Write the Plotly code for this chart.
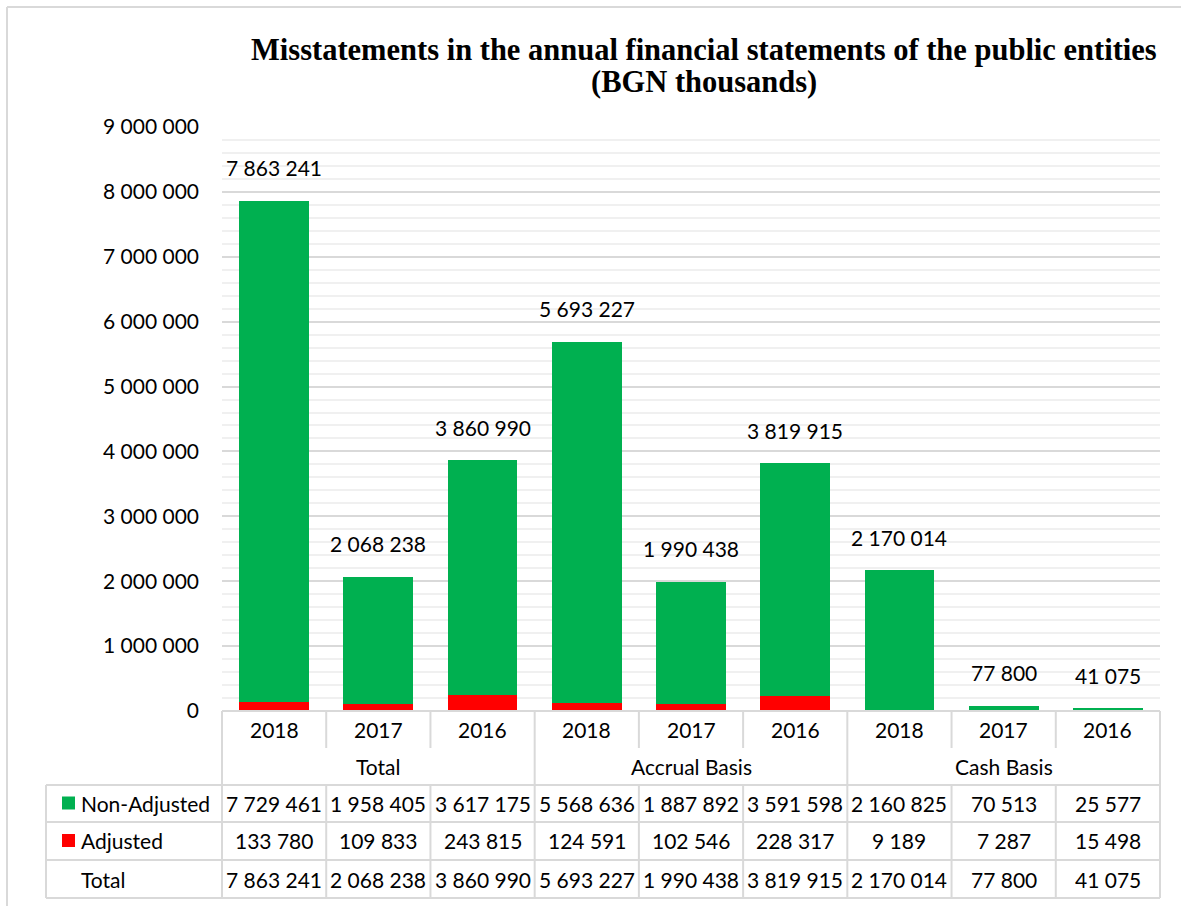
import plotly.graph_objects as go

# Data (BGN thousands)
groups = ["Total", "Accrual Basis", "Cash Basis"]
years = ["2018", "2017", "2016"]
non_adjusted = [7729461, 1958405, 3617175, 5568636, 1887892, 3591598, 2160825, 70513, 25577]
adjusted = [133780, 109833, 243815, 124591, 102546, 228317, 9189, 7287, 15498]
totals = [7863241, 2068238, 3860990, 5693227, 1990438, 3819915, 2170014, 77800, 41075]
series_names = ["Non-Adjusted", "Adjusted", "Total"]
title_lines = ["Misstatements in the annual financial statements of the public entities",
               "(BGN thousands)"]

GREEN = "#00B050"
RED = "#FF0000"
GRID = "#d9d9d9"
FONT = "Lato"
FS = 21

W, H = 1181, 906
L, R, T, B = 222, 1160, 127, 711   # plot area in pixels


def px(x):
    return (x - L) / (R - L)


def py(y):
    return (B - y) / (B - T)


def fmt(v):
    return f"{v:,}".replace(",", " ")


def text_at(x, y, text, **kw):
    d = dict(x=px(x), y=py(y), xref="paper", yref="paper", text=text, showarrow=False,
             xanchor="center", yanchor="middle",
             font=dict(size=FS, color="#000", family=FONT))
    d.update(kw)
    return d


n = len(totals)
xs = list(range(n))

fig = go.Figure()
fig.add_bar(x=xs, y=adjusted, name="Adjusted", marker=dict(color=RED, line_width=0), width=0.67)
fig.add_bar(x=xs, y=non_adjusted, name="Non-Adjusted", marker=dict(color=GREEN, line_width=0), width=0.67)

shapes = []
annotations = []

# total labels above bars
for i, t in enumerate(totals):
    annotations.append(dict(x=i, y=t, xref="x", yref="y", text=fmt(t), showarrow=False,
                            yshift=33, font=dict(size=FS, color="#000", family=FONT)))

line = dict(color=GRID, width=2)
col_w = (R - L) / n

# year row and group row
for i in range(n):
    cx = L + col_w * (i + 0.5)
    annotations.append(text_at(cx, 729, years[i % 3]))
for g, name in enumerate(groups):
    cx = L + col_w * (3 * g + 1.5)
    annotations.append(text_at(cx, 766, name))

# table rows
row_tops = [785, 822, 860, 898]
row_vals = [non_adjusted, adjusted, totals]
row_colors = [GREEN, RED, None]
for r, vals in enumerate(row_vals):
    cy = (row_tops[r] + row_tops[r + 1]) / 2
    for i, v in enumerate(vals):
        cx = L + col_w * (i + 0.5)
        annotations.append(text_at(cx, cy, fmt(v)))
    annotations.append(text_at(79, cy, series_names[r], xanchor="left"))
    if row_colors[r]:
        shapes.append(dict(type="rect", xref="paper", yref="paper", x0=px(62), x1=px(75),
                           y0=py(cy + 6), y1=py(cy - 7), fillcolor=row_colors[r], line_width=0))

# table grid lines
for y in row_tops:
    shapes.append(dict(type="line", xref="paper", yref="paper", x0=px(46), x1=px(R),
                       y0=py(y), y1=py(y), line=line))
shapes.append(dict(type="line", xref="paper", yref="paper", x0=px(L), x1=px(R),
                   y0=py(B), y1=py(B), line=line))
shapes.append(dict(type="line", xref="paper", yref="paper", x0=px(46), x1=px(46),
                   y0=py(785), y1=py(898), line=line))
for i in range(n + 1):
    x = L + col_w * i
    if i % 3 == 0:
        shapes.append(dict(type="line", xref="paper", yref="paper", x0=px(x), x1=px(x),
                           y0=py(B), y1=py(898), line=line))
    else:
        shapes.append(dict(type="line", xref="paper", yref="paper", x0=px(x), x1=px(x),
                           y0=py(B), y1=py(748), line=line))
        shapes.append(dict(type="line", xref="paper", yref="paper", x0=px(x), x1=px(x),
                           y0=py(785), y1=py(898), line=line))

# outer frame (top and left edges)
shapes.append(dict(type="line", xref="paper", yref="paper", x0=px(7), x1=px(W + 10),
                   y0=py(7), y1=py(7), line=dict(color=GRID, width=2)))
shapes.append(dict(type="line", xref="paper", yref="paper", x0=px(7), x1=px(7),
                   y0=py(7), y1=py(H + 10), line=dict(color=GRID, width=2)))

# title, two lines
for ty, tl in zip([50, 82], title_lines):
    annotations.append(text_at(704, ty, f"<b>{tl}</b>",
                               font=dict(size=30.5, color="#000", family="Liberation Serif")))

fig.update_layout(
    width=W, height=H,
    margin=dict(l=L, r=W - R, t=T, b=H - B, autoexpand=False),
    barmode="stack",
    showlegend=False,
    plot_bgcolor="white",
    paper_bgcolor="white",
    separators=". ",
    shapes=shapes,
    annotations=annotations,
    xaxis=dict(range=[-0.5, n - 0.5], showticklabels=False, showgrid=False, zeroline=False,
               fixedrange=True),
    yaxis=dict(range=[0, 9000000], dtick=1000000, tickformat=",d", showgrid=True,
               gridcolor=GRID, gridwidth=1.5, zeroline=False, ticks="", ticklen=0,
               ticklabelstandoff=22,
               tickfont=dict(size=FS, color="#000", family=FONT),
               minor=dict(dtick=200000, showgrid=True, gridcolor="#f0f0f0", gridwidth=1.5)),
)

fig.write_html("out.html")
